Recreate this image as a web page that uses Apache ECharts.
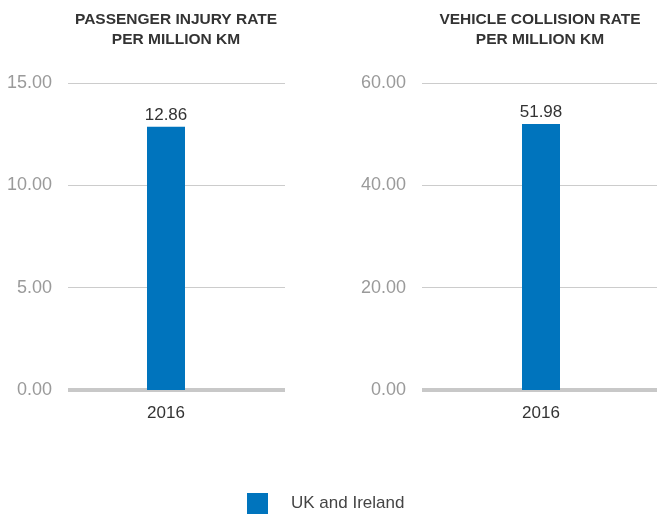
<!DOCTYPE html>
<html>
<head>
<meta charset="utf-8">
<script src="https://cdn.jsdelivr.net/npm/echarts@6/dist/echarts.min.js"></script>
<style>
  html, body { margin: 0; padding: 0; background: #fff; }
  #chart { width: 657px; height: 516px; }
</style>
</head>
<body>
<div id="chart"></div>
<script>
const categories = ['2016'];
const seriesName = 'UK and Ireland';
const injuryTitle = 'PASSENGER INJURY RATE\nPER MILLION KM';
const collisionTitle = 'VEHICLE COLLISION RATE\nPER MILLION KM';
const injuryRate = [12.86];
const collisionRate = [51.98];
const injuryTicks = { min: 0, max: 15, interval: 5 };
const collisionTicks = { min: 0, max: 60, interval: 20 };

const FONT = '"Liberation Sans", Arial, sans-serif';
const BLUE = '#0074bd';

function xAxisFor(gridIndex, min, max) {
  return {
    type: 'value', gridIndex, min, max,
    splitLine: { show: false },
    axisTick: { show: false },
    axisLine: { show: true, onZero: false, lineStyle: { color: '#c8c8c8', width: 4, cap: 'butt' } },
    axisLabel: {
      customValues: [0],
      margin: 15,
      color: '#333', fontSize: 17, fontFamily: FONT,
      formatter: v => categories[Math.round(v)] || ''
    }
  };
}
function yAxisFor(gridIndex, t) {
  return {
    type: 'value', gridIndex, min: t.min, max: t.max, interval: t.interval,
    axisLine: { show: false }, axisTick: { show: false },
    splitLine: { lineStyle: { color: '#cccccc', width: 1 } },
    axisLabel: { color: '#9a9a9a', fontSize: 18, fontFamily: FONT, margin: 16,
      formatter: v => v.toFixed(2) }
  };
}
function barSeries(idx, values) {
  return {
    type: 'bar', name: seriesName, xAxisIndex: idx, yAxisIndex: idx,
    barWidth: 38,
    data: values.map((v, i) => [i, v]),
    itemStyle: { color: BLUE },
    label: { show: true, position: 'top', distance: 3, color: '#333', fontSize: 17,
      fontFamily: FONT, formatter: p => p.value[1].toFixed(2) }
  };
}

const chart = echarts.init(document.getElementById('chart'));
chart.setOption({
  animation: false,
  title: [
    { text: injuryTitle, left: 176, top: 10, padding: 0, textAlign: 'center',
      textStyle: { fontSize: 15.5, fontWeight: 'bold', color: '#333', fontFamily: FONT, lineHeight: 20 } },
    { text: collisionTitle, left: 540, top: 10, padding: 0, textAlign: 'center',
      textStyle: { fontSize: 15.5, fontWeight: 'bold', color: '#333', fontFamily: FONT, lineHeight: 20 } }
  ],
  legend: {
    data: [seriesName], left: 247, top: 493, padding: 0,
    icon: 'rect', itemWidth: 21, itemHeight: 21,
    textStyle: { color: '#444', fontSize: 17, fontFamily: FONT, padding: [0, 0, 0, 18] }
  },
  grid: [
    { left: 68, width: 217, top: 83, height: 307 },
    { left: 422, width: 235, top: 83, height: 307 }
  ],
  xAxis: [xAxisFor(0, -98, 119), xAxisFor(1, -119, 116)],
  yAxis: [yAxisFor(0, injuryTicks), yAxisFor(1, collisionTicks)],
  series: [barSeries(0, injuryRate), barSeries(1, collisionRate)]
});
</script>
</body>
</html>
